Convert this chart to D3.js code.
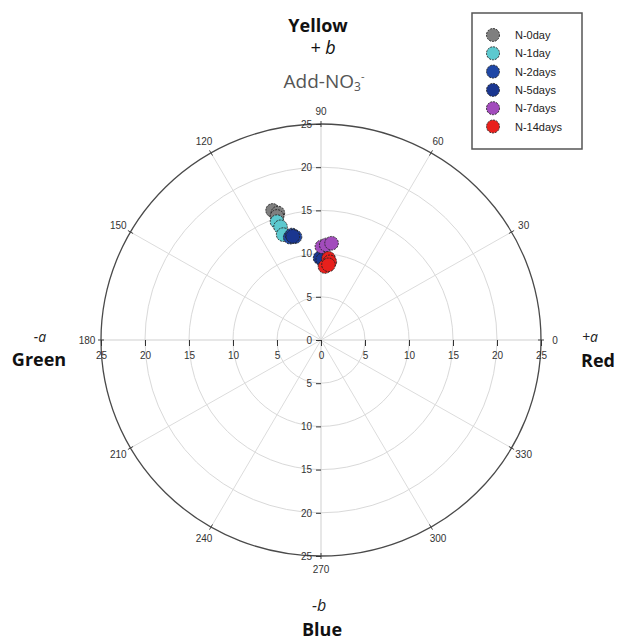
<!DOCTYPE html>
<html>
<head>
<meta charset="utf-8">
<script src="https://cdn.jsdelivr.net/npm/d3@7/dist/d3.min.js"></script>
<style>
  html, body { margin: 0; padding: 0; background: #fff; }
  svg { display: block; }
</style>
</head>
<body>
<svg id="chart" width="617" height="641"></svg>
<script>
// ---- data ----
const seriesNames = ["N-0day", "N-1day", "N-2days", "N-5days", "N-7days", "N-14days"];
const seriesColors = ["#7f7f7f", "#5cc9cf", "#1f47a6", "#1a3690", "#a24cbc", "#e8201c"];
// a* (x) and b* (y) values
const aN0  = [-5.5, -4.9, -5.0];
const bN0  = [15.0, 14.7, 14.3];
const aN1  = [-5.0, -4.6, -4.3];
const bN1  = [13.7, 13.1, 12.2];
const aN2  = [-3.5, -3.3, -2.95];
const bN2  = [11.9, 12.15, 11.95];
const aN5  = [-3.2, -0.1, 0.2];
const bN5  = [12.0, 9.5, 9.3];
const aN7  = [0.1, 0.6, 1.2];
const bN7  = [10.8, 11.0, 11.2];
const aN14 = [0.85, 1.0, 0.45, 0.85];
const bN14 = [9.45, 9.05, 8.5, 8.7];
const seriesA = [aN0, aN1, aN2, aN5, aN7, aN14];
const seriesB = [bN0, bN1, bN2, bN5, bN7, bN14];

const radialTicks = [-25, -20, -15, -10, -5, 0, 5, 10, 15, 20, 25];
const gridRadii = [5, 10, 15, 20];
const angleTicks = [0, 30, 60, 90, 120, 150, 180, 210, 240, 270, 300, 330];

// ---- layout ----
const svg = d3.select("#chart");
const cx = 321, cy = 340, rx = 220, ry = 216, rMax = 25;
const x = d3.scaleLinear().domain([-rMax, rMax]).range([cx - rx, cx + rx]);
const y = d3.scaleLinear().domain([-rMax, rMax]).range([cy + ry, cy - ry]);
const kx = rx / rMax, ky = ry / rMax;

const g = svg.append("g");

// grid circles
g.selectAll("ellipse.grid").data(gridRadii).enter().append("ellipse")
  .attr("cx", x(0)).attr("cy", y(0))
  .attr("rx", d => d * kx).attr("ry", d => d * ky)
  .attr("fill", "none").attr("stroke", "#d9d9d9").attr("stroke-width", 1);

// spokes
g.selectAll("line.spoke").data(angleTicks).enter().append("line")
  .attr("x1", x(0)).attr("y1", y(0))
  .attr("x2", d => x(rMax * Math.cos(d * Math.PI / 180)))
  .attr("y2", d => y(rMax * Math.sin(d * Math.PI / 180)))
  .attr("stroke", d => (d % 90 === 0) ? "#cfcfcf" : "#dcdcdc").attr("stroke-width", 1);

// outer circle
g.append("ellipse")
  .attr("cx", x(0)).attr("cy", y(0)).attr("rx", rx).attr("ry", ry)
  .attr("fill", "none").attr("stroke", "#4a4a4a").attr("stroke-width", 1.3);

// angular ticks and labels
angleTicks.forEach(d => {
  const t = d * Math.PI / 180;
  const c = Math.cos(t), s = Math.sin(t);
  g.append("line")
    .attr("x1", cx + (rx - 3) * c).attr("y1", cy - (ry - 3) * s)
    .attr("x2", cx + (rx + 3) * c).attr("y2", cy - (ry + 3) * s)
    .attr("stroke", "#444").attr("stroke-width", 1);
  g.append("text")
    .attr("x", cx + (rx + 14) * c)
    .attr("y", cy - (ry + 13) * s)
    .attr("text-anchor", "middle").attr("dominant-baseline", "central")
    .attr("font-family", "Liberation Sans, Arial, sans-serif")
    .attr("font-size", 10).attr("fill", "#333")
    .text(d);
});

// horizontal radial axis
const axX = d3.axisBottom(x).tickValues(radialTicks).tickFormat(d => Math.abs(d))
  .tickSizeInner(6).tickSizeOuter(0).tickPadding(6);
const gx = g.append("g").attr("transform", `translate(0,${cy})`).call(axX);
gx.select(".domain").remove();
gx.selectAll(".tick line").attr("stroke", "#333");
gx.selectAll(".tick text").attr("font-family", "Liberation Sans, Arial, sans-serif")
  .attr("font-size", 10).attr("fill", "#333");

// vertical radial axis
const axY = d3.axisLeft(y).tickValues(radialTicks).tickFormat(d => Math.abs(d))
  .tickSizeInner(5).tickSizeOuter(0).tickPadding(4);
const gy = g.append("g").attr("transform", `translate(${cx},0)`).call(axY);
gy.select(".domain").remove();
gy.selectAll(".tick line").attr("stroke", "#333");
gy.selectAll(".tick text").attr("font-family", "Liberation Sans, Arial, sans-serif")
  .attr("font-size", 10).attr("fill", "#333");

// data points
const pts = g.append("g");
seriesNames.forEach((name, i) => {
  const data = seriesA[i].map((a, j) => ({ a, b: seriesB[i][j] }));
  pts.selectAll(null).data(data).enter().append("circle")
    .attr("cx", d => x(d.a)).attr("cy", d => y(d.b)).attr("r", 6.8)
    .attr("fill", seriesColors[i])
    .attr("stroke", "#222").attr("stroke-width", 0.9)
    .attr("stroke-dasharray", "2,1");
});

// legend
const lg = svg.append("g");
lg.append("rect").attr("x", 472).attr("y", 13).attr("width", 110).attr("height", 136)
  .attr("fill", "#fff").attr("stroke", "#555").attr("stroke-width", 1.5);
seriesNames.forEach((name, i) => {
  const yy = 35 + i * 18.3;
  lg.append("circle").attr("cx", 493).attr("cy", yy).attr("r", 6.5)
    .attr("fill", seriesColors[i]).attr("stroke", "#222").attr("stroke-width", 0.9)
    .attr("stroke-dasharray", "2,1");
  lg.append("text").attr("x", 515).attr("y", yy).attr("dominant-baseline", "central")
    .attr("font-family", "Liberation Sans, Arial, sans-serif").attr("font-size", 11)
    .attr("fill", "#222").text(name);
});

// direction labels
const labelFont = "Open Sans, Noto Sans, sans-serif";
function lab(xp, yp, txt, opts) {
  const t = svg.append("text").attr("x", xp).attr("y", yp)
    .attr("text-anchor", opts.anchor || "middle")
    .attr("font-family", labelFont)
    .attr("font-size", opts.size || 18)
    .attr("font-weight", opts.weight || "normal")
    .attr("font-style", opts.style || "normal")
    .attr("fill", opts.fill || "#111");
  t.text(txt);
  return t;
}
lab(318, 32, "Yellow", { weight: "bold", size: 18 });
lab(323, 54, "+ b", { style: "italic", size: 18 });
const add = lab(324, 88, "", { size: 19, fill: "#555" });
add.append("tspan").text("Add-NO");
add.append("tspan").attr("font-size", 12).attr("dy", 3).text("3");
add.append("tspan").attr("font-size", 11).attr("dy", -11).text("-");

lab(40, 342, "-a", { style: "italic", size: 14, fill: "#222" });
lab(39, 366, "Green", { weight: "bold", size: 18 });
lab(590, 342, "+a", { style: "italic", size: 14, fill: "#222" });
lab(598, 367, "Red", { weight: "bold", size: 18 });
lab(319, 611, "-b", { style: "italic", size: 16, fill: "#222" });
lab(322, 636, "Blue", { weight: "bold", size: 18 });
</script>
</body>
</html>
